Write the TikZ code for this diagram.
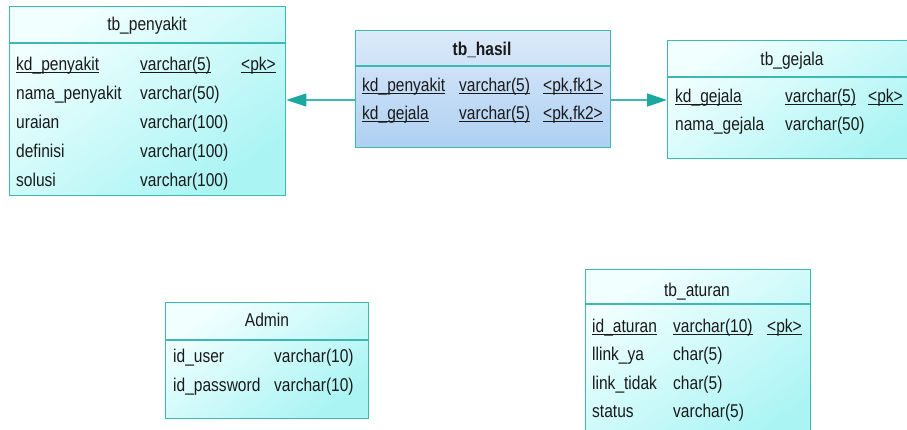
\documentclass[tikz,border=0pt]{standalone}
\usepackage{fontspec}
\setmainfont[FakeStretch=0.84]{Liberation Sans}
\usetikzlibrary{arrows.meta}
\definecolor{tealb}{HTML}{3DB9B2}
\definecolor{teala}{HTML}{1BA89F}
\definecolor{cyl}{HTML}{F2FFFF}
\definecolor{cyd}{HTML}{AAF4F4}
\definecolor{bll}{HTML}{DCEAFA}
\definecolor{bld}{HTML}{AED0F2}
\definecolor{txtc}{HTML}{1A1A1A}
\newcommand\uln[1]{\setbox0=\hbox{#1}\rlap{\rule[-2.8pt]{\wd0}{0.9pt}}\box0}
\begin{document}
\begin{tikzpicture}[x=1pt,y=-1pt,
  tbl/.style={draw=tealb, line width=1.4pt, rectangle, inner sep=0pt, anchor=north west,
    top color=cyl, bottom color=cyd, shading angle=35},
  tblb/.style={tbl, top color=bll, bottom color=bld},
  sepl/.style={draw=tealb, line width=1.4pt},
  txt/.style={anchor=base west, inner sep=0pt, font=\fontsize{18.5}{20}\selectfont, text=txtc},
  ttl/.style={anchor=base, inner sep=0pt, font=\fontsize{18.5}{20}\selectfont, text=txtc},
  fk/.style={draw=tealb, line width=1.3pt, -{Triangle[length=20pt,width=13pt,fill=teala,color=teala]}}
]
\clip (0,0) rectangle (907,429);
\fill[white] (0,0) rectangle (907,429);

% tb_penyakit
\node[tbl, minimum width=276pt, minimum height=189pt] (pen) at (9,6) {};
\draw[sepl] (pen.west |- 0,43) -- (pen.east |- 0,43);
\node[ttl] (pent) at (147,30) {tb\_penyakit};
\node[txt] (pen1a) at (16,70) {\uln{kd\_penyakit}};
\node[txt] (pen1b) at (140,70) {\uln{varchar(5)}};
\node[txt] (pen1c) at (241,70) {\uln{<pk>}};
\node[txt] (pen2a) at (16,99) {nama\_penyakit};
\node[txt] (pen2b) at (140,99) {varchar(50)};
\node[txt] (pen3a) at (16,128) {uraian};
\node[txt] (pen3b) at (140,128) {varchar(100)};
\node[txt] (pen4a) at (16,157) {definisi};
\node[txt] (pen4b) at (140,157) {varchar(100)};
\node[txt] (pen5a) at (16,186) {solusi};
\node[txt] (pen5b) at (140,186) {varchar(100)};

% tb_hasil
\node[tblb, minimum width=255pt, minimum height=117pt] (has) at (355,30) {};
\draw[sepl] (has.west |- 0,66) -- (has.east |- 0,66);
\node[ttl, font=\fontsize{18.5}{20}\selectfont\bfseries] (hast) at (482,55) {tb\_hasil};
\node[txt] (has1a) at (362,91) {\uln{kd\_penyakit}};
\node[txt] (has1b) at (459,91) {\uln{varchar(5)}};
\node[txt] (has1c) at (543,91) {\uln{<pk,fk1>}};
\node[txt] (has2a) at (362,119) {\uln{kd\_gejala}};
\node[txt] (has2b) at (459,119) {\uln{varchar(5)}};
\node[txt] (has2c) at (543,119) {\uln{<pk,fk2>}};

% tb_gejala
\node[tbl, minimum width=260pt, minimum height=118pt] (gej) at (667,40) {};
\draw[sepl] (gej.west |- 0,77) -- (gej.east |- 0,77);
\node[ttl] (gejt) at (792,65) {tb\_gejala};
\node[txt] (gej1a) at (675,102) {\uln{kd\_gejala}};
\node[txt] (gej1b) at (785,102) {\uln{varchar(5)}};
\node[txt] (gej1c) at (868,102) {\uln{<pk>}};
\node[txt] (gej2a) at (675,130) {nama\_gejala};
\node[txt] (gej2b) at (785,130) {varchar(50)};

% Admin
\node[tbl, minimum width=203pt, minimum height=116pt] (adm) at (165,302) {};
\draw[sepl] (adm.west |- 0,340) -- (adm.east |- 0,340);
\node[ttl] (admt) at (267,326) {Admin};
\node[txt] (adm1a) at (173,362) {id\_user};
\node[txt] (adm1b) at (274,362) {varchar(10)};
\node[txt] (adm2a) at (173,391) {id\_password};
\node[txt] (adm2b) at (274,391) {varchar(10)};

% tb_aturan
\node[tbl, minimum width=225pt, minimum height=180pt] (atu) at (585,269) {};
\draw[sepl] (atu.west |- 0,304) -- (atu.east |- 0,304);
\node[ttl] (atut) at (697,296) {tb\_aturan};
\node[txt] (atu1a) at (592,332) {\uln{id\_aturan}};
\node[txt] (atu1b) at (673,332) {\uln{varchar(10)}};
\node[txt] (atu1c) at (767,332) {\uln{<pk>}};
\node[txt] (atu2a) at (592,360) {llink\_ya};
\node[txt] (atu2b) at (673,360) {char(5)};
\node[txt] (atu3a) at (592,389) {link\_tidak};
\node[txt] (atu3b) at (673,389) {char(5)};
\node[txt] (atu4a) at (592,417) {status};
\node[txt] (atu4b) at (673,417) {varchar(5)};

% references
\draw[fk] (has.west |- 0,100) -- (pen.east |- 0,100);
\draw[fk] (has.east |- 0,100) -- (gej.west |- 0,100);
\end{tikzpicture}
\end{document}
